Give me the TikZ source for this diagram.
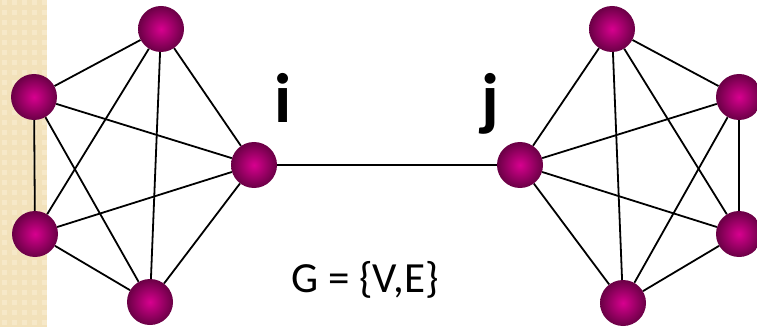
\documentclass[tikz,border=0pt]{standalone}
\usepackage{fontspec}
\setmainfont{Carlito}
\usetikzlibrary{backgrounds}
\definecolor{ballin}{HTML}{D8008F}
\definecolor{ballout}{HTML}{6A0045}
\definecolor{stripbase}{HTML}{F2E1BA}
\definecolor{stripsq}{HTML}{F6E8C8}
\tikzset{
  vtx/.style={circle, minimum size=46pt, inner sep=0pt, shading=radial, inner color=ballin, outer color=ballout},
  edge/.style={line width=1.8pt, black},
  bridge/.style={line width=2.7pt, black},
  lbl/.style={font=\fontsize{70}{70}\selectfont\bfseries, anchor=base, inner sep=0pt},
  setlbl/.style={font=\fontsize{43}{43}\selectfont, anchor=base, inner sep=0pt}
}
\begin{document}
\begin{tikzpicture}[x=1pt,y=1pt]
\useasboundingbox (0,0) rectangle (757,327);
% left graph
\node[vtx] (A) at (161,298) {};
\node[vtx] (B) at (34,230) {};
\node[vtx] (C) at (254,162) {};
\node[vtx] (D) at (35,93) {};
\node[vtx] (E) at (150,25) {};
% right graph
\node[vtx] (F) at (612,298) {};
\node[vtx] (G) at (739,230) {};
\node[vtx] (H) at (520,162) {};
\node[vtx] (I) at (739,93) {};
\node[vtx] (J) at (623,24) {};
\node[lbl] (li) at (283,204) {i};
\node[lbl] (lj) at (490,204) {j};
\node[setlbl] (set) at (365,35) {G = \{V,E\}};
\begin{scope}[on background layer]
  \fill[white] (0,0) rectangle (757,327);
  \fill[stripbase] (0,0) rectangle (47,327);
  \foreach \i in {0,...,4} {
    \foreach \j in {0,...,33} {
      \fill[stripsq] ({\i*10+2},{\j*10+2}) rectangle ({\i*10+7},{\j*10+7});
    }
  }
  \foreach \a/\b in {A/B,A/C,A/D,A/E,B/C,B/D,B/E,C/D,C/E,D/E,
                     F/G,F/H,F/I,F/J,G/H,G/I,G/J,H/I,H/J,I/J}
    \draw[edge] (\a) -- (\b);
  \draw[bridge] (C) -- (H);
\end{scope}
\end{tikzpicture}
\end{document}
